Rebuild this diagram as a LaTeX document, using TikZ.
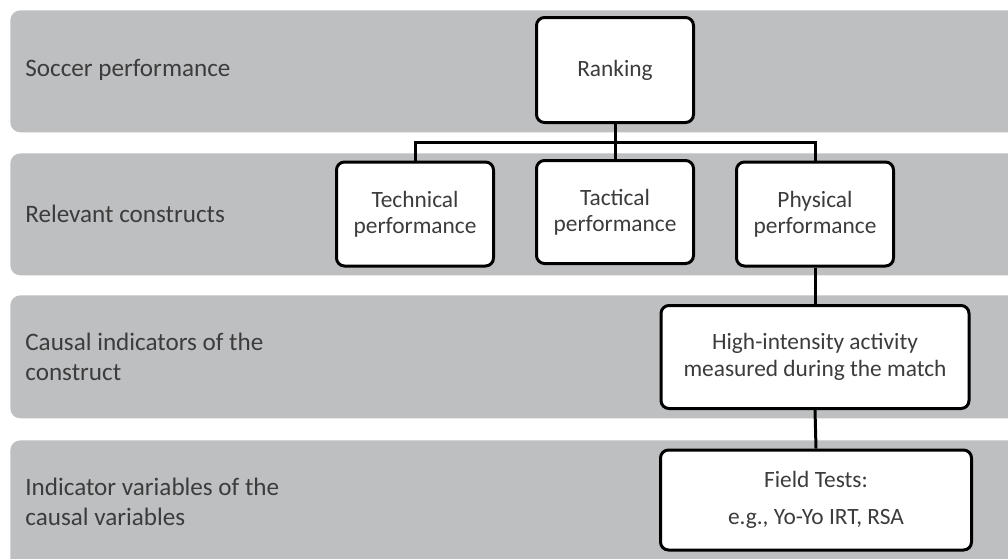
\documentclass[tikz,border=0pt]{standalone}
\usepackage{xcolor}
\usepackage{fontspec}
\setmainfont{Carlito}
\usepackage{tikz}
\definecolor{bandgray}{RGB}{190,191,193}
\definecolor{textgray}{RGB}{60,60,60}

\begin{document}
\begin{tikzpicture}[
	band/.style={shape=rectangle, fill=bandgray, rounded corners=0.2cm, inner sep=0, minimum width=20.6cm, anchor=north west},
	bandlabel/.style={anchor=west, align=left, inner sep=0, text=textgray, font=\fontsize{14.3}{17.4}\selectfont},
	box/.style={shape=rectangle, draw, line width=1.7pt, rounded corners=0.16cm, fill=white, align=center, inner sep=0, text=textgray, font=\fontsize{13.3}{15}\selectfont},
	wire/.style={line width=1.7pt}
]
	\useasboundingbox (0, 0) rectangle (20.16, -11.16);
	\clip (0, 0) rectangle (20.16, -11.16);
	% Bands and their labels:
	\node[band, minimum height=2.44cm](Rect1) at (0.2, -0.2){};
	\node[band, minimum height=2.44cm](Rect2) at (0.2, -3.06){};
	\node[band, minimum height=2.46cm](Rect3) at (0.2, -5.9){};
	\node[band, minimum height=2.6cm](Rect4) at (0.2, -8.8){};
	\node[bandlabel](Lbl1) at (0.5, -1.4){Soccer performance};
	\node[bandlabel](Lbl2) at (0.5, -4.28){Relevant constructs};
	\node[bandlabel](Lbl3) at (0.5, -7.14){Causal indicators of the\\construct};
	\node[bandlabel](Lbl4) at (0.5, -10.04){Indicator variables of the\\causal variables};
	% Boxes:
	\node[box, minimum width=3.14cm, minimum height=2.1cm](Box1) at (12.3, -1.4){Ranking};
	\node[box, minimum width=3.14cm, minimum height=2.08cm](Box2) at (8.3, -4.28){Technical\\performance};
	\node[box, minimum width=3.14cm, minimum height=2.06cm](Box3) at (12.3, -4.24){Tactical\\performance};
	\node[box, minimum width=3.14cm, minimum height=2.08cm](Box4) at (16.3, -4.28){Physical\\performance};
	\node[box, minimum width=6.16cm, minimum height=2.06cm](Box5) at (16.3, -7.14){High-intensity activity\\measured during the match};
	\node[box, minimum width=6.22cm, minimum height=2.0cm](Box6) at (16.32, -10.0){Field Tests:\\[0.2cm]e.g., Yo-Yo IRT, RSA};
	% Wires:
	\coordinate (J1) at (12.3, -2.84);
	\draw[wire] (Box1.south) -- (J1);
	\draw[wire] (Box2.north) |- (J1) -| (Box4.north);
	\draw[wire] (J1) -- (Box3.north);
	\draw[wire] (Box4.south) -- (Box5.north);
	\draw[wire] (Box5.south) -- (Box6.north);
\end{tikzpicture}
\end{document}
